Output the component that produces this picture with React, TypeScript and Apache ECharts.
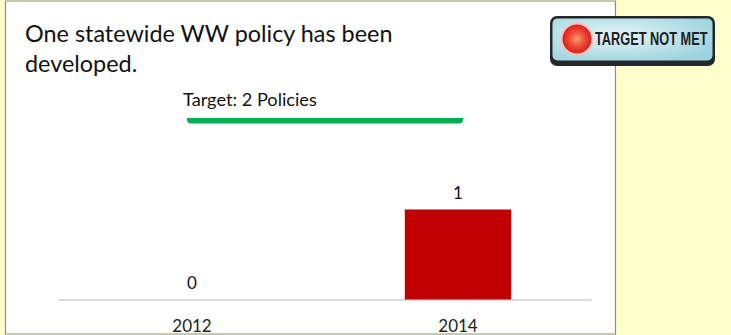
import React, { useEffect, useRef } from "react";
import * as echarts from "echarts";

const years = ["2012", "2014"];
const policies = [0, 1];
const targetPolicies = 2;
const headingLines = ["One statewide WW policy has been", "developed."];
const targetLabel = "Target: 2 Policies";
const statusLabel = "TARGET NOT MET";

const FONT = "Lato, 'Open Sans', sans-serif";

export default function App() {
  const ref = useRef<HTMLDivElement>(null);

  useEffect(() => {
    const chart = echarts.init(ref.current, null, { renderer: "svg" });
    chart.setOption({
      animation: false,
      backgroundColor: "#FFFFCC",
      grid: { left: 59, top: 119.5, width: 532, height: 180 },
      xAxis: {
        type: "category",
        data: years,
        axisLine: { lineStyle: { color: "#CFCFCF", width: 1.5 } },
        axisTick: { show: false },
        axisLabel: { color: "#222", fontFamily: FONT, fontSize: 17, margin: 17 },
      },
      yAxis: {
        type: "value",
        min: 0,
        max: targetPolicies,
        interval: 1,
        show: false,
      },
      series: [
        {
          type: "bar",
          data: policies,
          barWidth: "40%",
          itemStyle: { color: "#C00000" },
          label: {
            show: true,
            position: "top",
            distance: 9,
            color: "#111",
            fontFamily: FONT,
            fontSize: 17,
          },
        },
        {
          // Target marker sits at the target value on the hidden y axis.
          type: "custom",
          clip: false,
          data: [[0, targetPolicies]],
          renderItem: (_p: unknown, api: any) => {
            const y = api.coord([0, api.value(1)])[1];
            return {
              type: "rect",
              shape: { x: 187, y: y - 1.5, width: 276, height: 5.5, r: [0, 0, 4, 4] },
              style: { fill: "#00B050" },
            };
          },
        },
      ],
      graphic: [
        {
          type: "rect",
          z: -1,
          shape: { x: 5.5, y: 1, width: 610, height: 333 },
          style: { fill: "#FFFFFF", stroke: "#8E8E86", lineWidth: 1.2 },
        },
        {
          type: "text",
          x: 25,
          y: 21,
          style: { text: headingLines[0], fill: "#111", font: `23.4px ${FONT}` },
        },
        {
          type: "text",
          x: 25,
          y: 51,
          style: { text: headingLines[1], fill: "#111", font: `23.4px ${FONT}` },
        },
        {
          type: "text",
          x: 183,
          y: 90,
          style: { text: targetLabel, fill: "#111", font: `18.2px ${FONT}` },
        },
        {
          // Status badge: dark rounded frame, pale blue face, red lamp, label.
          type: "group",
          x: 550,
          y: 16,
          children: [
            {
              type: "rect",
              shape: { x: 0, y: 0, width: 165, height: 50, r: 7 },
              style: { fill: "#24282B" },
            },
            {
              type: "rect",
              shape: { x: 2.5, y: 2.5, width: 160, height: 42, r: 5 },
              style: {
                fill: {
                  type: "radial",
                  x: 0.4,
                  y: 0.4,
                  r: 0.7,
                  colorStops: [
                    { offset: 0, color: "#E4F5F8" },
                    { offset: 1, color: "#9CD3DE" },
                  ],
                },
              },
            },
            {
              type: "circle",
              shape: { cx: 27, cy: 23, r: 16.5 },
              style: { fill: "#F3C4B8" },
            },
            {
              type: "circle",
              shape: { cx: 27, cy: 23, r: 14.5 },
              style: {
                fill: {
                  type: "radial",
                  x: 0.5,
                  y: 0.5,
                  r: 0.5,
                  colorStops: [
                    { offset: 0, color: "#F59A76" },
                    { offset: 0.55, color: "#EE4A34" },
                    { offset: 1, color: "#D81E1E" },
                  ],
                },
              },
            },
            {
              type: "text",
              x: 45,
              y: 14,
              scaleX: 0.71,
              style: {
                text: statusLabel,
                fill: "#1E2225",
                font: `bold 18px 'Liberation Sans', sans-serif`,
              },
            },
          ],
        },
      ],
    });
    return () => chart.dispose();
  }, []);

  return <div ref={ref} style={{ position: "fixed", left: 0, top: 0, width: 731, height: 335 }} />;
}
